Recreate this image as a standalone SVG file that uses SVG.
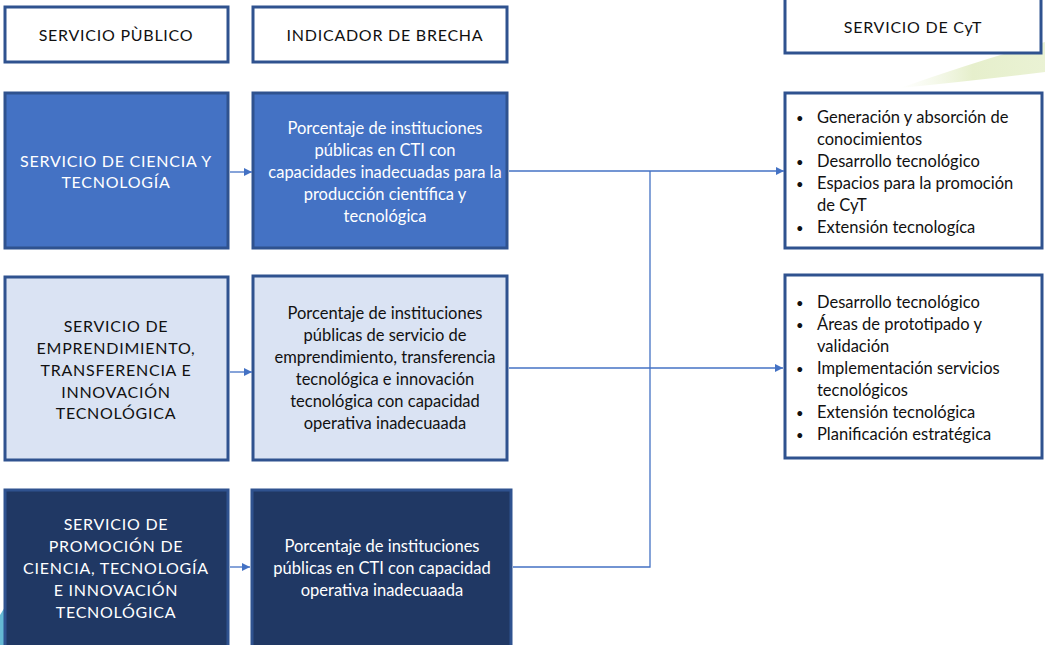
<svg xmlns="http://www.w3.org/2000/svg" width="1045" height="645" viewBox="0 0 1045 645">
<defs>
<marker id="arr" viewBox="0 0 10 10" refX="10" refY="5" markerWidth="8" markerHeight="8" markerUnits="userSpaceOnUse" orient="auto">
<path d="M0,0 L10,5 L0,10 z" fill="#4472C4"/>
</marker>
<linearGradient id="sw" x1="0" y1="0" x2="1" y2="0">
<stop offset="0" stop-color="#eef4dc" stop-opacity="0"/>
<stop offset="0.5" stop-color="#e6efcc"/>
<stop offset="1" stop-color="#eaf2d4"/>
</linearGradient>
</defs>
<style>
text{font-family:Lato,"Liberation Sans",sans-serif;font-size:16.5px;text-anchor:middle}
.up{letter-spacing:0.75px;font-size:16px}
.hdr rect{fill:#fff;stroke:#2F528F;stroke-width:3}
.hdr text{fill:#111}
.b1 rect{fill:#4472C4;stroke:#2F528F;stroke-width:3}
.b1 text{fill:#fff}
.b2 rect{fill:#DAE3F3;stroke:#2F528F;stroke-width:3}
.b2 text{fill:#111}
.b3 rect{fill:#203864;stroke:#2F528F;stroke-width:3}
.b3 text{fill:#fff}
.lst rect{fill:#fff;stroke:#2F528F;stroke-width:3}
.lst text{fill:#111;text-anchor:start}
.lst .bl{font-size:13px}
.conn line,.conn polyline{stroke:#4472C4;stroke-width:1.3;fill:none}
</style>
<rect width="1045" height="645" fill="#fff"/>
<path d="M900,88 Q980,60 1045,42 L1045,72 Q980,80 900,88 z" fill="url(#sw)"/>
<path d="M0,615 Q6,605 10,600 L10,645 L0,645 z" fill="#3fa7c9" opacity="0.8"/>

<g id="hdr-servicio-publico" class="hdr"><rect x="5" y="7" width="223" height="55"/><text class="up" x="116" y="41">SERVICIO PÙBLICO</text></g>
<g id="hdr-indicador" class="hdr"><rect x="253" y="7" width="254" height="55"/><text class="up" x="385" y="41">INDICADOR DE BRECHA</text></g>
<g id="hdr-cyt" class="hdr"><rect x="785" y="-2" width="256" height="55"/><text class="up" x="913" y="33">SERVICIO DE CyT</text></g>

<g id="sp1" class="b1"><rect x="5" y="93" width="223" height="155"/><text class="up" x="116" y="167">SERVICIO DE CIENCIA Y</text><text class="up" x="116" y="188">TECNOLOGÍA</text></g>
<g id="ib1" class="b1"><rect x="253" y="93" width="254" height="155"/>
<text x="385" y="134">Porcentaje de instituciones</text>
<text x="385" y="156">públicas en CTI con</text>
<text x="385" y="178">capacidades inadecuadas para la</text>
<text x="385" y="200">producción científica y</text>
<text x="385" y="222">tecnológica</text></g>

<g id="sp2" class="b2"><rect x="5" y="277" width="223" height="183"/>
<text class="up" x="116" y="332">SERVICIO DE</text>
<text class="up" x="116" y="354">EMPRENDIMIENTO,</text>
<text class="up" x="116" y="376">TRANSFERENCIA E</text>
<text class="up" x="116" y="398">INNOVACIÓN</text>
<text class="up" x="116" y="419">TECNOLÓGICA</text></g>
<g id="ib2" class="b2"><rect x="253" y="276" width="254" height="184"/>
<text x="385" y="319">Porcentaje de instituciones</text>
<text x="385" y="341">públicas de servicio de</text>
<text x="385" y="363">emprendimiento, transferencia</text>
<text x="385" y="385">tecnológica e innovación</text>
<text x="385" y="407">tecnológica con capacidad</text>
<text x="385" y="429">operativa inadecuaada</text></g>

<g id="sp3" class="b3"><rect x="5" y="490" width="223" height="160"/>
<text class="up" x="116" y="530">SERVICIO DE</text>
<text class="up" x="116" y="552">PROMOCIÓN DE</text>
<text class="up" x="116" y="574">CIENCIA, TECNOLOGÍA</text>
<text class="up" x="116" y="596">E INNOVACIÓN</text>
<text class="up" x="116" y="618">TECNOLÓGICA</text></g>
<g id="ib3" class="b3"><rect x="252" y="490" width="259" height="160"/>
<text x="382" y="552">Porcentaje de instituciones</text>
<text x="382" y="574">públicas en CTI con capacidad</text>
<text x="382" y="596">operativa inadecuaada</text></g>

<g id="cyt1" class="lst"><rect x="785" y="93" width="257" height="155"/>
<text class="bl" x="796" y="123">•</text><text x="817" y="123">Generación y absorción de</text>
<text x="817" y="145">conocimientos</text>
<text class="bl" x="796" y="167">•</text><text x="817" y="167">Desarrollo tecnológico</text>
<text class="bl" x="796" y="189">•</text><text x="817" y="189">Espacios para la promoción</text>
<text x="817" y="211">de CyT</text>
<text class="bl" x="796" y="233">•</text><text x="817" y="233">Extensión tecnologíca</text></g>

<g id="cyt2" class="lst"><rect x="785" y="275" width="257" height="183"/>
<text class="bl" x="796" y="308">•</text><text x="817" y="308">Desarrollo tecnológico</text>
<text class="bl" x="796" y="330">•</text><text x="817" y="330">Áreas de prototipado y</text>
<text x="817" y="352">validación</text>
<text class="bl" x="796" y="374">•</text><text x="817" y="374">Implementación servicios</text>
<text x="817" y="396">tecnológicos</text>
<text class="bl" x="796" y="418">•</text><text x="817" y="418">Extensión tecnológica</text>
<text class="bl" x="796" y="440">•</text><text x="817" y="440">Planificación estratégica</text></g>

<g id="connectors" class="conn">
<line x1="230" y1="172" x2="252" y2="172" marker-end="url(#arr)"/>
<line x1="230" y1="372" x2="252" y2="372" marker-end="url(#arr)"/>
<line x1="230" y1="567" x2="250" y2="567" marker-end="url(#arr)"/>
<line x1="509" y1="171" x2="784" y2="171" marker-end="url(#arr)"/>
<line x1="509" y1="368" x2="783" y2="368" marker-end="url(#arr)"/>
<polyline points="513,567 650,567 650,171"/>
</g>
</svg>
